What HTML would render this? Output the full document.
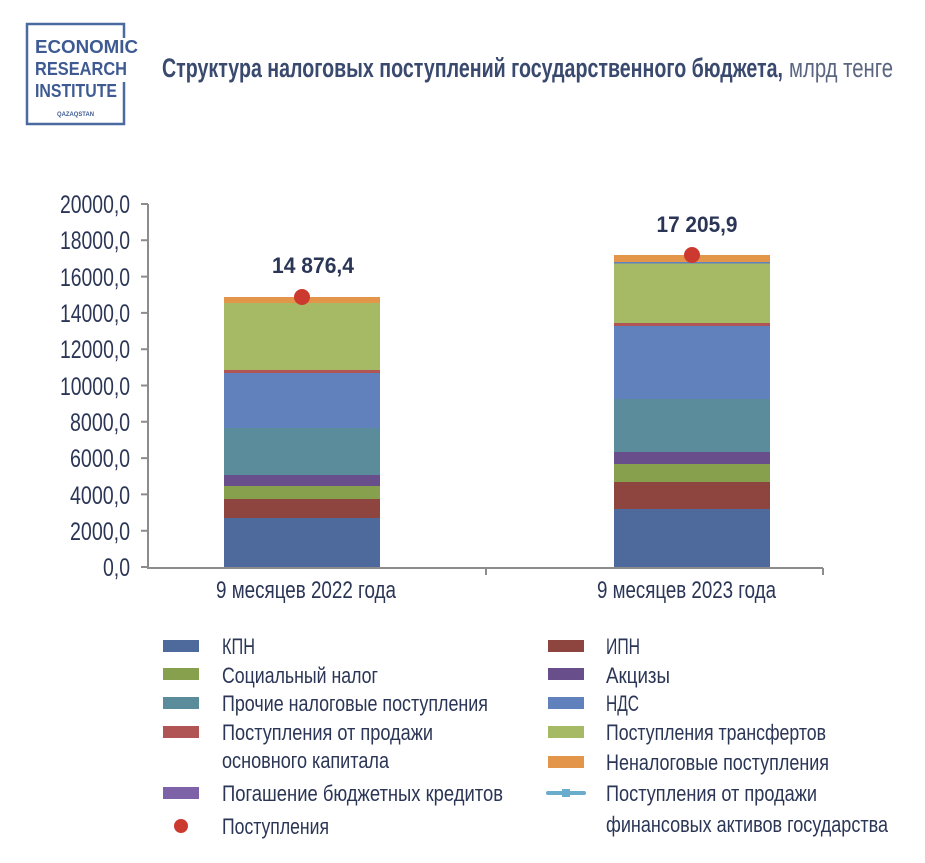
<!DOCTYPE html>
<html><head><meta charset="utf-8"><style>
html,body{margin:0;padding:0;background:#fff;width:925px;height:863px;overflow:hidden}
svg{display:block}
text{font-family:"Liberation Sans Narrow","Liberation Sans",sans-serif;fill:#2b3656}
</style></head><body>
<svg width="925" height="863" viewBox="0 0 925 863" xmlns="http://www.w3.org/2000/svg">
<!-- logo -->
<g stroke="#4a6aa0" stroke-width="2.5" fill="none">
<path d="M124 38 V24 H27 V124 H124 V103"/>
</g>
<text x="35" y="53" font-size="18" font-weight="bold" textLength="103" lengthAdjust="spacingAndGlyphs" style="fill:#3d5a92;font-family:'Liberation Sans',sans-serif">ECONOMIC</text>
<text x="35" y="75" font-size="18" font-weight="bold" textLength="92" lengthAdjust="spacingAndGlyphs" style="fill:#3d5a92;font-family:'Liberation Sans',sans-serif">RESEARCH</text>
<text x="35" y="97" font-size="18" font-weight="bold" textLength="82" lengthAdjust="spacingAndGlyphs" style="fill:#3d5a92;font-family:'Liberation Sans',sans-serif">INSTITUTE</text>
<text x="57" y="116" font-size="6" font-weight="bold" textLength="37" lengthAdjust="spacingAndGlyphs" style="fill:#3d5a92;font-family:'Liberation Sans',sans-serif">QAZAQSTAN</text>
<path d="M124 82 V103" stroke="#4a6aa0" stroke-width="2.5"/>
<!-- title -->
<text x="162" y="77" font-size="27" font-weight="bold" textLength="621" lengthAdjust="spacingAndGlyphs" style="fill:#3a4a6e">Структура налоговых поступлений государственного бюджета,</text>
<text x="789" y="77" font-size="27" textLength="104" lengthAdjust="spacingAndGlyphs" style="fill:#5a6580">млрд тенге</text>
<!-- axes -->
<g stroke="#8c8c8c" stroke-width="2" fill="none">
<path d="M148 204 V568 H823"/>
<path d="M141 204H148M141 240.3H148M141 276.6H148M141 312.9H148M141 349.2H148M141 385.5H148M141 421.8H148M141 458.1H148M141 494.4H148M141 530.7H148M141 567H148"/>
<path d="M486 568V575M823 568V575"/>
</g>
<g font-size="25" text-anchor="end" lengthAdjust="spacingAndGlyphs">
<text x="130" y="213" textLength="70" lengthAdjust="spacingAndGlyphs">20000,0</text>
<text x="130" y="249" textLength="70" lengthAdjust="spacingAndGlyphs">18000,0</text>
<text x="130" y="286" textLength="70" lengthAdjust="spacingAndGlyphs">16000,0</text>
<text x="130" y="322" textLength="70" lengthAdjust="spacingAndGlyphs">14000,0</text>
<text x="130" y="358" textLength="70" lengthAdjust="spacingAndGlyphs">12000,0</text>
<text x="130" y="395" textLength="70" lengthAdjust="spacingAndGlyphs">10000,0</text>
<text x="130" y="431" textLength="60" lengthAdjust="spacingAndGlyphs">8000,0</text>
<text x="130" y="467" textLength="60" lengthAdjust="spacingAndGlyphs">6000,0</text>
<text x="130" y="504" textLength="60" lengthAdjust="spacingAndGlyphs">4000,0</text>
<text x="130" y="540" textLength="60" lengthAdjust="spacingAndGlyphs">2000,0</text>
<text x="130" y="576" textLength="27" lengthAdjust="spacingAndGlyphs">0,0</text>
</g>
<!-- bar 1 -->
<rect x="224" y="518" width="156" height="49" fill="#4e6a9c"/>
<rect x="224" y="499" width="156" height="19" fill="#8e4540"/>
<rect x="224" y="486" width="156" height="13" fill="#87a04e"/>
<rect x="224" y="475" width="156" height="11" fill="#684e8a"/>
<rect x="224" y="428" width="156" height="47" fill="#5a8c9c"/>
<rect x="224" y="373" width="156" height="55" fill="#6081bb"/>
<rect x="224" y="370" width="156" height="3" fill="#b05454"/>
<rect x="224" y="303" width="156" height="67" fill="#a6b964"/>
<rect x="224" y="297" width="156" height="6" fill="#e39549"/>
<circle cx="302" cy="297" r="8" fill="#cc3a2f"/>
<text x="313" y="273" font-size="22" font-weight="bold" text-anchor="middle" textLength="82" lengthAdjust="spacingAndGlyphs">14  876,4</text>
<!-- bar 2 -->
<rect x="614" y="509" width="156" height="58" fill="#4e6a9c"/>
<rect x="614" y="482" width="156" height="27" fill="#8e4540"/>
<rect x="614" y="464" width="156" height="18" fill="#87a04e"/>
<rect x="614" y="452" width="156" height="12" fill="#684e8a"/>
<rect x="614" y="399" width="156" height="53" fill="#5a8c9c"/>
<rect x="614" y="326" width="156" height="73" fill="#6081bb"/>
<rect x="614" y="323" width="156" height="3" fill="#b05454"/>
<rect x="614" y="263" width="156" height="60" fill="#a6b964"/>
<rect x="614" y="262" width="156" height="1.5" fill="#6081bb"/>
<rect x="614" y="255" width="156" height="7" fill="#e39549"/>
<circle cx="692" cy="255" r="8" fill="#cc3a2f"/>
<text x="697" y="232" font-size="22" font-weight="bold" text-anchor="middle" textLength="81" lengthAdjust="spacingAndGlyphs">17  205,9</text>
<!-- x labels -->
<text x="216" y="598" font-size="24" textLength="180" lengthAdjust="spacingAndGlyphs">9 месяцев 2022 года</text>
<text x="597" y="598" font-size="24" textLength="179" lengthAdjust="spacingAndGlyphs">9 месяцев 2023 года</text>
<!-- legend col1 -->
<rect x="163" y="640" width="36" height="12" fill="#4e6a9c"/>
<rect x="163" y="668" width="36" height="12" fill="#87a04e"/>
<rect x="163" y="697" width="36" height="12" fill="#5a8c9c"/>
<rect x="163" y="726" width="36" height="12" fill="#b05454"/>
<rect x="163" y="787" width="36" height="12" fill="#7d62a8"/>
<circle cx="181" cy="826" r="7" fill="#cc3a2f"/>
<g font-size="22">
<text x="222" y="654" textLength="33" lengthAdjust="spacingAndGlyphs">КПН</text>
<text x="222" y="683" textLength="156" lengthAdjust="spacingAndGlyphs">Социальный налог</text>
<text x="222" y="711" textLength="266" lengthAdjust="spacingAndGlyphs">Прочие налоговые поступления</text>
<text x="222" y="740" textLength="211" lengthAdjust="spacingAndGlyphs">Поступления от продажи</text>
<text x="222" y="768" textLength="167" lengthAdjust="spacingAndGlyphs">основного капитала</text>
<text x="222" y="801" textLength="281" lengthAdjust="spacingAndGlyphs">Погашение бюджетных кредитов</text>
<text x="222" y="834" textLength="107" lengthAdjust="spacingAndGlyphs">Поступления</text>
</g>
<!-- legend col2 -->
<rect x="548" y="640" width="36" height="12" fill="#8e4540"/>
<rect x="548" y="668" width="36" height="12" fill="#684e8a"/>
<rect x="548" y="697" width="36" height="12" fill="#6081bb"/>
<rect x="548" y="726" width="36" height="12" fill="#a6b964"/>
<rect x="548" y="756" width="36" height="12" fill="#e39549"/>
<path d="M548 793H584" stroke="#6aaccc" stroke-width="4" stroke-linecap="round"/>
<rect x="562" y="789" width="8" height="8" fill="#6aaccc"/>
<g font-size="22">
<text x="606" y="654" textLength="34" lengthAdjust="spacingAndGlyphs">ИПН</text>
<text x="606" y="683" textLength="64" lengthAdjust="spacingAndGlyphs">Акцизы</text>
<text x="606" y="711" textLength="33" lengthAdjust="spacingAndGlyphs">НДС</text>
<text x="606" y="740" textLength="220" lengthAdjust="spacingAndGlyphs">Поступления трансфертов</text>
<text x="606" y="770" textLength="223" lengthAdjust="spacingAndGlyphs">Неналоговые поступления</text>
<text x="606" y="801" textLength="211" lengthAdjust="spacingAndGlyphs">Поступления от продажи</text>
<text x="606" y="832" textLength="282" lengthAdjust="spacingAndGlyphs">финансовых активов государства</text>
</g>
</svg>
</body></html>
